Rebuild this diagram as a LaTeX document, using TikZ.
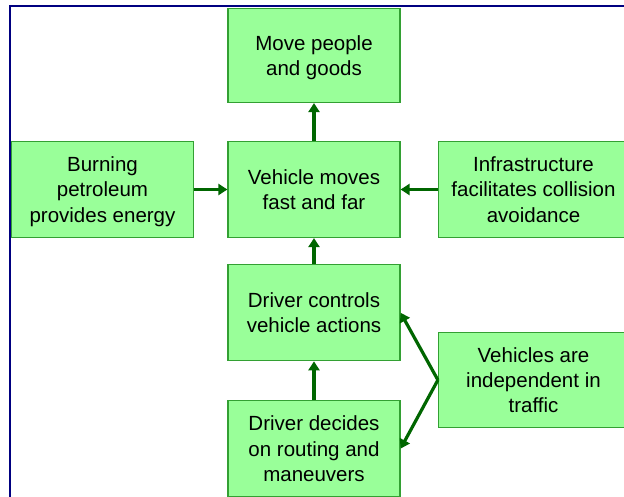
\documentclass[tikz,border=0pt]{standalone}
\usepackage{fontspec}
\setmainfont{Liberation Sans}
\usetikzlibrary{arrows.meta}
\definecolor{boxfill}{RGB}{153,255,153}
\definecolor{boxline}{RGB}{51,160,51}
\definecolor{arrowgreen}{RGB}{0,102,0}
\definecolor{framenavy}{RGB}{0,0,128}
\tikzset{
  box/.style={draw=boxline, fill=boxfill, line width=1.2pt, align=center,
    inner sep=0pt, text depth=0pt, font=\fontsize{20.5}{25.3}\selectfont, text=black},
  flow/.style={draw=arrowgreen, line width=3.2pt,
    -{Triangle[width=11pt,length=9pt]}, shorten >=0pt}
}
\begin{document}
\begin{tikzpicture}[x=1pt, y=-1pt]
  \clip (0,0) rectangle (624,497);
  \fill[white] (0,0) rectangle (624,497);

  % outer frame (only its top and left sides fall inside the page)
  \draw[framenavy, line width=2.6pt] (10,640) -- (10,6.2) -- (700,6.2);

  % boxes
  \node[box, minimum width=172pt, minimum height=94pt] (move) at (314,55.5)
    {Move people\\and goods};
  \node[box, minimum width=172pt, minimum height=96pt] (veh) at (314,189.5)
    {Vehicle moves\\fast and far};
  \node[box, minimum width=182pt, minimum height=96pt] (burn) at (102.5,189.5)
    {Burning\\petroleum\\provides energy};
  \node[box, minimum width=190pt, minimum height=96pt] (infra) at (533.5,189.5)
    {Infrastructure\\facilitates collision\\avoidance};
  \node[box, minimum width=172pt, minimum height=96pt] (ctrl) at (314,312.75)
    {Driver controls\\vehicle actions};
  \node[box, minimum width=172pt, minimum height=96pt] (decide) at (314,448.6)
    {Driver decides\\on routing and\\maneuvers};
  \node[box, minimum width=190pt, minimum height=95pt] (indep) at (533.5,380)
    {Vehicles are\\independent in\\traffic};

  % connectors
  \draw[flow] (veh.north) -- (move.south);
  \draw[flow] (burn.east) -- (veh.west);
  \draw[flow] (infra.west) -- (veh.east);
  \draw[flow] (ctrl.north) -- (veh.south);
  \draw[flow] (decide.north) -- (ctrl.south);
  \draw[flow] (indep.west) -- (ctrl.east);
  \draw[flow] (indep.west) -- (decide.east);
\end{tikzpicture}
\end{document}
